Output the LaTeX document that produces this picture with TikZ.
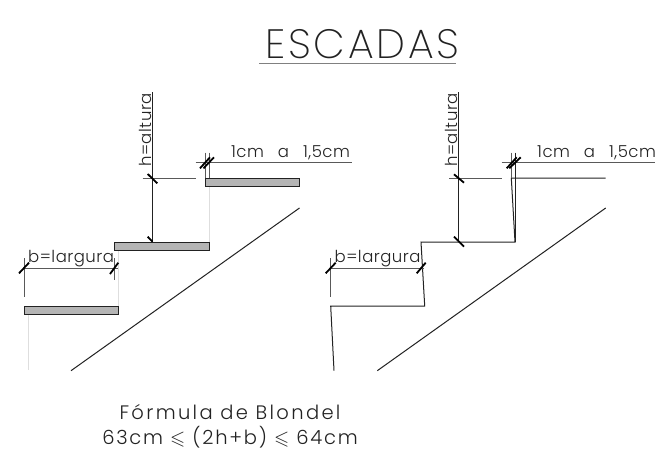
\documentclass[tikz,border=0pt]{standalone}
\usepackage{amssymb}
\usepackage{fontspec}
\setmainfont{Poppins Light}
\newfontfamily\cadtitle[LetterSpace=6.5]{Poppins ExtraLight}
\newfontfamily\cadtext[LetterSpace=3]{Poppins Light}
\newfontfamily\cadwide[LetterSpace=12]{Poppins Light}
\newfontfamily\cadmid[LetterSpace=9]{Poppins Light}
\definecolor{treadfill}{HTML}{B5B5B5}
\definecolor{ghost}{HTML}{DEDEDE}
\definecolor{ink}{HTML}{222222}
\tikzset{
  line/.style={draw=ink,line width=1pt},
  thin line/.style={draw=ink!75,line width=0.8pt},
  hidden/.style={draw=ghost,line width=0.9pt},
  tickmark/.style={draw=black,line width=1.8pt},
  tread/.style={draw=ink,line width=0.8pt,fill=treadfill},
  label/.style={inner sep=0pt,text=ink,font=\cadtext\fontsize{16.5}{18}\selectfont},
  formula/.style={inner sep=0pt,text=ink,font=\cadwide\fontsize{19.5}{22}\selectfont},
  formula two/.style={inner sep=0pt,text=ink,font=\cadmid\fontsize{19.5}{22}\selectfont}
}
\begin{document}
\begin{tikzpicture}[x=1pt,y=-1pt]
\useasboundingbox (0,0) rectangle (656,450);
\fill[white] (0,0) rectangle (656,450);
% title
\node[inner sep=0pt,text=ink,font=\cadtitle\fontsize{41}{46}\selectfont] (title) at (362.5,44) {ESCADAS};
\draw[draw=black!50,line width=1.4pt] (259,63.5) -- (456,63.5);
% left stair
\draw[hidden] (209,186) -- (209,242);
\draw[hidden] (118.5,250) -- (118.5,306);
\draw[hidden] (28,314) -- (28,370);
\draw[tread] (205,178) rectangle (299.5,186);
\draw[tread] (114.5,242) rectangle (209.5,250);
\draw[tread] (24,306) rectangle (118.5,314);
\draw[line] (71,370.7) -- (299.5,208);
\draw[line] (152.5,92) -- (152.5,242);
\draw[thin line] (142.7,178) -- (196,178);
\draw[thin line] (195.7,162.7) -- (352,162.7);
\draw[thin line] (205,152.7) -- (205,178);
\draw[thin line] (209,152.7) -- (209,178);
\draw[thin line] (24,268.3) -- (118,268.3);
\draw[thin line] (24,258) -- (24,296.7);
\draw[thin line] (114.5,258) -- (114.5,280);
\draw[tickmark] (147.7,174) -- (157.3,183.3);
\draw[tickmark] (147.7,236.7) -- (152.5,241.7);
\draw[tickmark] (200,168.3) -- (210,157.3);
\draw[tickmark] (203.5,168.3) -- (214,157.3);
\draw[tickmark] (19,273.3) -- (29,262.7);
\draw[tickmark] (110,274) -- (118.3,262.7);
\node[label,rotate=90,anchor=west] (hl) at (145,167) {h=altura};
\node[label,anchor=west] (wl) at (231,153) {1cm\hspace{14pt}a\hspace{14pt}1,5cm};
\node[label,anchor=west] (bl) at (28,258.5) {b=largura};
% right stair
\draw[line] (605.7,178) -- (511.3,178) -- (515,242) -- (421,242) -- (424.7,306) -- (330.7,306) -- (334,370.7);
\draw[line] (377.3,370.7) -- (605.7,208);
\draw[line] (458.7,92) -- (458.7,242);
\draw[thin line] (449.3,178) -- (502,178);
\draw[thin line] (501.7,162.7) -- (655,162.7);
\draw[thin line] (511.3,152.7) -- (511.3,178);
\draw[line] (515,152.7) -- (515,242);
\draw[thin line] (330.7,268.3) -- (424,268.3);
\draw[thin line] (330.7,258) -- (330.7,296.7);
\draw[tickmark] (454,174.3) -- (464,182.7);
\draw[tickmark] (454,236.7) -- (464,246.7);
\draw[tickmark] (506.7,168.3) -- (516.7,157.3);
\draw[tickmark] (509.3,168.3) -- (520.7,157.3);
\draw[tickmark] (325.7,273.3) -- (335.7,262.7);
\draw[tickmark] (416.7,273.3) -- (425.7,262.7);
\node[label,rotate=90,anchor=west] (hr) at (451.2,167) {h=altura};
\node[label,anchor=west] (wr) at (537,153) {1cm\hspace{14pt}a\hspace{14pt}1,5cm};
\node[label,anchor=west] (br) at (334.5,258.5) {b=largura};
% formula
\node[formula] (f1) at (230,412) {Fórmula de Blondel};
\node[formula two] (f2) at (230,437.5) {63cm $\leqslant$ (2h+b) $\leqslant$ 64cm};
\end{tikzpicture}
\end{document}
